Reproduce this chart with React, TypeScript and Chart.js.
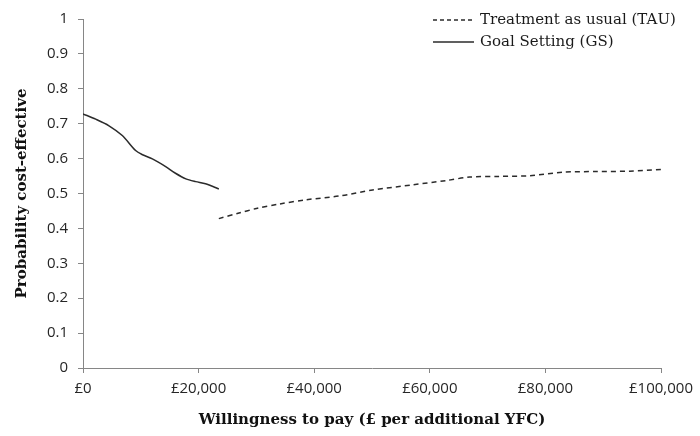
import React, { useEffect, useRef } from "react";
import { Chart, registerables } from "chart.js";

Chart.register(...registerables);

// Willingness to pay (£) and probability cost-effective
const gsX = [0, 2200, 4500, 6800, 9100, 10300, 12000, 14300, 16000, 17800, 19500, 21200, 23500];
const gsY = [0.728, 0.713, 0.694, 0.666, 0.623, 0.611, 0.599, 0.577, 0.558, 0.542, 0.534, 0.528, 0.513];

const tauX = [23500, 27000, 30000, 34000, 38600, 44400, 50100, 57100, 62800, 66900, 72000, 77300, 83100, 88800, 94600, 100000];
const tauY = [0.428, 0.444, 0.457, 0.47, 0.482, 0.493, 0.51, 0.525, 0.537, 0.547, 0.549, 0.551, 0.561, 0.563, 0.564, 0.569];

const seriesLabels = ["Treatment as usual (TAU)", "Goal Setting (GS)"];
const xTitle = "Willingness to pay (£ per additional YFC)";
const yTitle = "Probability cost-effective";
const xMin = 0;
const xMax = 100000;
const xStep = 20000;
const yMin = 0;
const yMax = 1;
const yStep = 0.1;

const AXIS = "#868686";
const TICK_COLOR = "#262626";
const LINE_COLOR = "#2b2b2b";

const legendPlugin = {
  id: "manualLegend",
  afterDraw(chart: any) {
    const ctx = chart.ctx;
    ctx.save();
    ctx.font = "15px 'DejaVu Serif'";
    ctx.fillStyle = "#1a1a1a";
    ctx.textBaseline = "middle";
    ctx.textAlign = "left";
    const rows = [
      { label: seriesLabels[0], dash: [4, 3], y: 20 },
      { label: seriesLabels[1], dash: [], y: 42 },
    ];
    rows.forEach((r) => {
      ctx.beginPath();
      ctx.setLineDash(r.dash);
      ctx.strokeStyle = LINE_COLOR;
      ctx.lineWidth = 1.3;
      ctx.moveTo(433, r.y);
      ctx.lineTo(474, r.y);
      ctx.stroke();
      ctx.setLineDash([]);
      ctx.fillText(r.label, 480, r.y);
    });
    ctx.restore();
  },
};

export default function App() {
  const ref = useRef<HTMLCanvasElement | null>(null);

  useEffect(() => {
    document.body.style.margin = "0";
    if (!ref.current) return;
    const chart = new Chart(ref.current, {
      type: "line",
      data: {
        datasets: [
          {
            label: seriesLabels[0],
            data: tauX.map((x, i) => ({ x, y: tauY[i] })),
            borderColor: LINE_COLOR,
            borderWidth: 1.5,
            borderDash: [5, 4],
            pointRadius: 0,
            tension: 0.3,
            fill: false,
          },
          {
            label: seriesLabels[1],
            data: gsX.map((x, i) => ({ x, y: gsY[i] })),
            borderColor: LINE_COLOR,
            borderWidth: 1.5,
            pointRadius: 0,
            tension: 0.3,
            fill: false,
          },
        ],
      },
      options: {
        animation: false,
        responsive: true,
        maintainAspectRatio: false,
        layout: { padding: { top: 18, right: 39, bottom: 0, left: 0 } },
        plugins: {
          legend: { display: false },
          tooltip: { enabled: false },
        },
        scales: {
          x: {
            type: "linear",
            min: xMin,
            max: xMax,
            ticks: {
              stepSize: xStep,
              maxRotation: 0,
              color: TICK_COLOR,
              font: { family: "'Open Sans'", size: 15 },
              padding: 7,
              callback: (v: any) => "£" + Number(v).toLocaleString("en-GB"),
            },
            grid: { drawOnChartArea: false, drawTicks: true, tickLength: 5, color: AXIS },
            border: { color: AXIS, width: 1 },
            title: {
              display: true,
              text: xTitle,
              color: "#111",
              font: { family: "'DejaVu Serif'", size: 15, weight: "bold" },
              padding: { top: 0, bottom: 7 },
            },
            afterFit: (s: any) => {
              s.height = 68;
            },
          },
          y: {
            type: "linear",
            min: yMin,
            max: yMax,
            ticks: {
              stepSize: yStep,
              color: TICK_COLOR,
              font: { family: "'Open Sans'", size: 15 },
              padding: 10,
              callback: (v: any) => {
                const n = Math.round(Number(v) * 10) / 10;
                return n === 0 || n === 1 ? String(n) : n.toFixed(1);
              },
            },
            grid: { drawOnChartArea: false, drawTicks: true, tickLength: 5, color: AXIS },
            border: { color: AXIS, width: 1 },
            title: {
              display: true,
              text: yTitle,
              color: "#111",
              font: { family: "'DejaVu Serif'", size: 15, weight: "bold" },
              padding: { top: 13, bottom: 0 },
            },
            afterFit: (s: any) => {
              s.width = 83;
            },
          },
        },
      },
      plugins: [legendPlugin],
    });
    return () => chart.destroy();
  }, []);

  return (
    <div style={{ width: 700, height: 436, position: "relative", background: "#fff" }}>
      <canvas ref={ref} />
    </div>
  );
}
